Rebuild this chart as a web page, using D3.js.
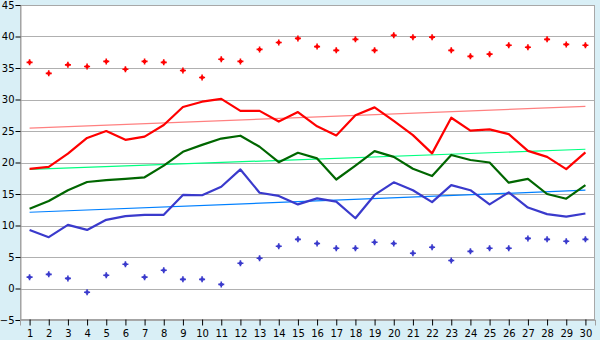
<!DOCTYPE html>
<html><head><meta charset="utf-8">
<script src="https://cdn.jsdelivr.net/npm/d3@7"></script>
<style>
html,body{margin:0;padding:0;background:#d9eff6;}
svg{display:block;}
text{font-family:"DejaVu Sans",Verdana,sans-serif;}
</style></head>
<body><svg id="c" width="600" height="340"></svg>
<script>
const days = d3.range(1, 31);
const yTicks = [-5, 0, 5, 10, 15, 20, 25, 30, 35, 40, 45];

const absMax = [35.9,34.15,35.5,35.25,36.05,34.8,36.05,35.9,34.6,33.5,36.4,36.05,37.95,39.05,39.7,38.4,37.8,39.55,37.8,40.2,39.9,39.9,37.8,36.85,37.2,38.6,38.3,39.55,38.75,38.6];
const absMin = [1.8,2.25,1.6,-0.6,2.1,3.85,1.8,2.9,1.45,1.45,0.65,4.0,4.8,6.7,7.8,7.15,6.4,6.4,7.35,7.15,5.6,6.55,4.45,5.9,6.4,6.4,7.95,7.8,7.5,7.8];
const maxT = [19.0,19.3,21.4,23.9,25.0,23.6,24.1,25.95,28.8,29.65,30.1,28.2,28.2,26.5,28.0,25.75,24.3,27.5,28.75,26.6,24.35,21.45,27.1,25.05,25.25,24.5,21.85,20.9,18.95,21.6];
const meanT = [12.65,13.9,15.6,16.9,17.2,17.4,17.65,19.5,21.7,22.8,23.8,24.25,22.5,20.05,21.55,20.65,17.3,19.5,21.8,20.9,19.0,17.85,21.2,20.4,20.0,16.8,17.4,15.0,14.25,16.4];
const minT = [9.3,8.15,10.1,9.3,10.9,11.5,11.7,11.7,14.85,14.8,16.15,18.9,15.2,14.7,13.35,14.3,13.8,11.15,14.85,16.85,15.6,13.7,16.4,15.6,13.35,15.25,12.85,11.8,11.4,11.9];
const normDays = [1, 30];
const normMax = [25.45, 28.9];
const normMean = [18.9, 22.1];
const normMin = [12.1, 15.6];

const svg = d3.select('#c');
const L = 20, R = 595, T = 5, B = 320;
const x = d3.scalePoint().domain(days).range([L, R]).padding(0.5);
const y = d3.scaleLinear().domain([-5, 45]).range([B, T]);

svg.append('rect').attr('x', L).attr('y', T).attr('width', R - L).attr('height', B - T)
  .attr('fill', '#fff');

// grid
svg.append('g').selectAll('line').data(yTicks).join('line')
  .attr('x1', L).attr('x2', R)
  .attr('y1', d => Math.round(y(d)) + 0.5).attr('y2', d => Math.round(y(d)) + 0.5)
  .attr('stroke', '#b0b0b0').attr('stroke-width', 1);

svg.append('rect').attr('x', L + 0.5).attr('y', T + 0.5).attr('width', R - L - 1).attr('height', B - T - 1)
  .attr('fill', 'none').attr('stroke', '#a8a8a8');

// axes
const yAxis = d3.axisLeft(y).tickValues(yTicks).tickSize(5).tickPadding(1);
const gy = svg.append('g').attr('transform', `translate(${L + 0.5},0)`).call(yAxis);
gy.select('.domain').attr('stroke', '#a0a0a0');
gy.selectAll('.tick line').attr('stroke', '#000');
gy.selectAll('.tick text').attr('font-size', 10).attr('fill', '#000');

const xAxis = d3.axisBottom(x).tickSize(6).tickPadding(4);
const gx = svg.append('g').attr('transform', `translate(0,${B - 0.5})`).call(xAxis);
gx.select('.domain').attr('stroke', '#a0a0a0');
gx.selectAll('.tick line').attr('stroke', '#000');
gx.selectAll('.tick text').attr('font-size', 10).attr('fill', '#000');

// normals (trend lines)
const nline = d3.line().x((d, i) => x(normDays[i])).y(d => y(d));
[[normMax, '#ff8080'], [normMean, '#00ff80'], [normMin, '#0080ff']].forEach(([arr, c]) => {
  svg.append('path').attr('d', nline(arr)).attr('fill', 'none').attr('stroke', c).attr('stroke-width', 1.2);
});

// main lines
const line = d3.line().x((d, i) => x(days[i])).y(d => y(d));
[[maxT, '#ff0000'], [meanT, '#006600'], [minT, '#3a3acc']].forEach(([arr, c]) => {
  svg.append('path').attr('d', line(arr)).attr('fill', 'none').attr('stroke', c)
    .attr('stroke-width', 2.2).attr('stroke-linejoin', 'round');
});

// markers
const star = 'M-0.8,-3H0.8V-1.5H1.5V-0.8H3V0.8H1.5V1.5H0.8V3H-0.8V1.5H-1.5V0.8H-3V-0.8H-1.5V-1.5H-0.8Z';
[[absMax, '#ff0000'], [absMin, '#3a3acc']].forEach(([arr, c]) => {
  svg.append('g').selectAll('path').data(arr).join('path')
    .attr('d', star)
    .attr('transform', (d, i) => `translate(${x(days[i])},${y(d)})`)
    .attr('fill', c);
});
</script></body></html>
